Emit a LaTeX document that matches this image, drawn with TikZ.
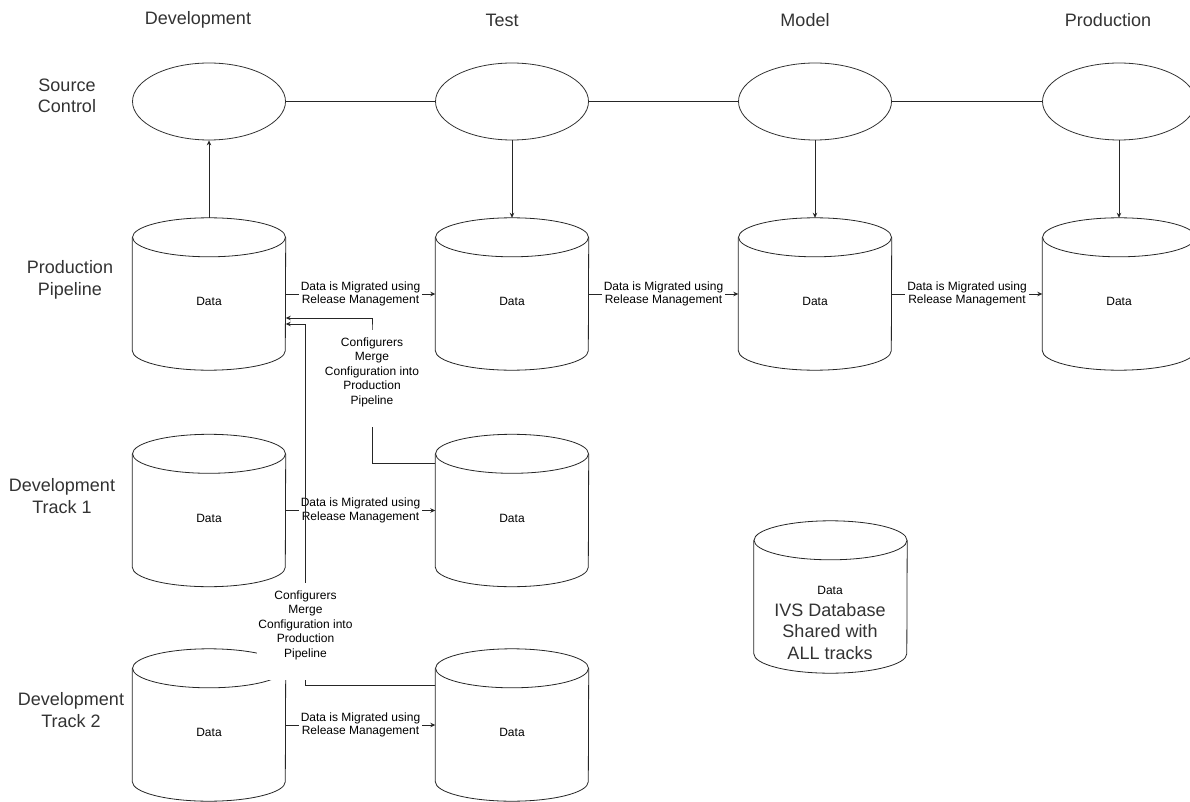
\documentclass[tikz,border=0pt]{standalone}
\usepackage{fontspec}
\setmainfont{Liberation Sans}
\usetikzlibrary{shapes.geometric,arrows.meta}
\newcommand\dbshape[1]{%
  \draw[dbline] ([yshift=-19.5pt]#1.north west) -- ([yshift=19.5pt]#1.south west)
    arc[start angle=180, end angle=360, x radius=76.5pt, y radius=19.5pt]
    -- ([yshift=-19.5pt]#1.north east);
  \draw[dbline] ([yshift=-19.5pt]#1.north) ellipse[x radius=76.5pt, y radius=19.5pt];}
\begin{document}
\begin{tikzpicture}[x=1pt,y=-1pt,
  ln/.style={line width=0.8pt, draw=black!85},
  dbline/.style={line width=0.8pt, draw=black!85},
  arr/.style={ln, -{Stealth[length=5pt,width=4.5pt]}},
  src/.style={ellipse, draw=black!80, line width=0.8pt, minimum width=153pt, minimum height=77pt, inner sep=0pt},
  db/.style={rectangle, minimum width=153pt, minimum height=152pt, inner sep=0pt,
     font=\fontsize{12}{14}\selectfont},
  big/.style={font=\fontsize{18}{21.5}\selectfont, text=black!80, align=center, inner sep=0pt},
  mig/.style={fill=white, inner xsep=2pt, inner ysep=1pt, align=center, font=\fontsize{12}{13.5}\selectfont},
  cfg/.style={fill=white, inner xsep=1.5pt, inner ysep=6pt, anchor=north, font=\fontsize{12}{14.5}\selectfont}
]
\useasboundingbox[fill=white] (0,0) rectangle (1190,802);

% column headings
\node[big] (hdev)   at (198,20)  {Development};
\node[big] (htest)  at (502,20)  {Test};
\node[big] (hmodel) at (805,20)  {Model};
\node[big] (hprod)  at (1108,20) {Production};

% row headings
\node[big] (rsrc)  at (67,96)  {Source\\Control};
\node[big] (rpipe) at (70,280) {Production\\Pipeline};
\node[big] (rt1)   at (62,496) {Development\\Track 1};
\node[big] (rt2)   at (71,710) {Development\\Track 2};

% source control
\node[src] (sdev)   at (209,101.5) {};
\node[src] (stest)  at (512,101.5) {};
\node[src] (smodel) at (815,101.5) {};
\node[src] (sprod)  at (1119,101.5) {};

% databases
\node[db] (pdev)   at (209,294) {\rule{0pt}{24pt}Data};
\node[db] (ptest)  at (512,294) {\rule{0pt}{24pt}Data};
\node[db] (pmodel) at (815,294) {\rule{0pt}{24pt}Data};
\node[db] (pprod)  at (1119,294) {\rule{0pt}{24pt}Data};
\node[db] (t1dev)  at (209,510.5) {\rule{0pt}{24pt}Data};
\node[db] (t1test) at (512,510.5) {\rule{0pt}{24pt}Data};
\node[db] (t2dev)  at (209,725) {\rule{0pt}{24pt}Data};
\node[db] (t2test) at (512,725) {\rule{0pt}{24pt}Data};
\node[db] (ivs)    at (830.5,597) {};
\foreach \n in {pdev,ptest,pmodel,pprod,t1dev,t1test,t2dev,t2test,ivs}{\dbshape{\n}}
\node[align=center, inner sep=0pt, text=black!80, font=\fontsize{18}{21.5}\selectfont] (ivstext) at (830,623)
  {{\color{black}\fontsize{12}{14}\selectfont Data}\\IVS Database\\Shared with\\ALL tracks};

% source control links
\draw[ln] (sdev) -- (stest);
\draw[ln] (stest) -- (smodel);
\draw[ln] (smodel) -- (sprod);
\draw[arr] (pdev.north) -- (sdev.south);
\draw[arr] (stest.south) -- (ptest.north);
\draw[arr] (smodel.south) -- (pmodel.north);
\draw[arr] (sprod.south) -- (pprod.north);

% migrations
\draw[arr] (pdev.east) -- node[mig] {Data is Migrated using\\Release Management} (ptest.west);
\draw[arr] (ptest.east) -- node[mig] {Data is Migrated using\\Release Management} (pmodel.west);
\draw[arr] (pmodel.east) -- node[mig] {Data is Migrated using\\Release Management} (pprod.west);
\draw[arr] (t1dev.east) -- node[mig] {Data is Migrated using\\Release Management} (t1test.west);
\draw[arr] (t2dev.east) -- node[mig] {Data is Migrated using\\Release Management} (t2test.west);

% merges back into production pipeline
\coordinate (c1) at (372,330);
\coordinate (c2) at (305.5,583);
\coordinate (e1) at ([yshift=-24pt]pdev.east);
\coordinate (e2) at ([yshift=-30pt]pdev.east);
\coordinate (s1) at ([yshift=47.5pt]t1test.west);
\coordinate (s2) at ([yshift=40pt]t2test.west);
\draw[arr] (s1) -| (c1) |- (e1);
\draw[arr] (s2) -| (c2) |- (e2);
\node[cfg] (cfg1) at (c1) {\begin{tabular}{@{}c@{}}Configurers\\Merge\\Configuration into\\Production\\Pipeline\\[12pt]\end{tabular}};
\node[cfg] (cfg2) at (c2) {\begin{tabular}{@{}c@{}}Configurers\\Merge\\Configuration into\\Production\\Pipeline\\[12pt]\end{tabular}};
\end{tikzpicture}
\end{document}
